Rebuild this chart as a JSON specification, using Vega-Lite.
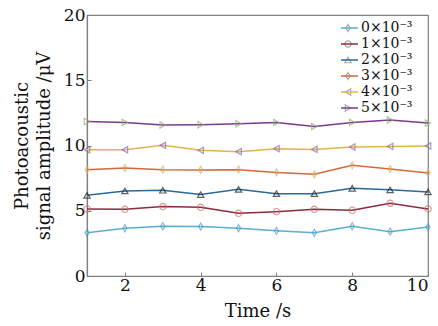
{
  "$schema": "https://vega.github.io/schema/vega-lite/v6.json",
  "autosize": {"type": "none"},
  "width": 341,
  "height": 261,
  "padding": {"left": 87, "top": 15, "right": 10, "bottom": 50},
  "background": "white",
  "config": {
    "font": "DejaVu Serif",
    "view": {"stroke": "#808080", "strokeWidth": 1.2},
    "axis": {"grid": false, "domainColor": "#808080", "tickColor": "#808080", "labelColor": "#111", "titleColor": "#111", "labelFont": "DejaVu Serif", "titleFont": "DejaVu Serif", "labelFontSize": 17, "titleFontSize": 18, "titleFontWeight": "normal", "tickSize": -4, "domainWidth": 1.2}
  },
  "data": {"values": [
    {"t":1,"v":3.31,"s":"0×10⁻³"},{"t":2,"v":3.66,"s":"0×10⁻³"},{"t":3,"v":3.81,"s":"0×10⁻³"},{"t":4,"v":3.79,"s":"0×10⁻³"},{"t":5,"v":3.66,"s":"0×10⁻³"},{"t":6,"v":3.46,"s":"0×10⁻³"},{"t":7,"v":3.31,"s":"0×10⁻³"},{"t":8,"v":3.81,"s":"0×10⁻³"},{"t":9,"v":3.40,"s":"0×10⁻³"},{"t":10,"v":3.76,"s":"0×10⁻³"},
    {"t":1,"v":5.14,"s":"1×10⁻³"},{"t":2,"v":5.11,"s":"1×10⁻³"},{"t":3,"v":5.32,"s":"1×10⁻³"},{"t":4,"v":5.26,"s":"1×10⁻³"},{"t":5,"v":4.80,"s":"1×10⁻³"},{"t":6,"v":4.93,"s":"1×10⁻³"},{"t":7,"v":5.11,"s":"1×10⁻³"},{"t":8,"v":5.03,"s":"1×10⁻³"},{"t":9,"v":5.57,"s":"1×10⁻³"},{"t":10,"v":5.14,"s":"1×10⁻³"},
    {"t":1,"v":6.18,"s":"2×10⁻³"},{"t":2,"v":6.52,"s":"2×10⁻³"},{"t":3,"v":6.57,"s":"2×10⁻³"},{"t":4,"v":6.24,"s":"2×10⁻³"},{"t":5,"v":6.64,"s":"2×10⁻³"},{"t":6,"v":6.31,"s":"2×10⁻³"},{"t":7,"v":6.31,"s":"2×10⁻³"},{"t":8,"v":6.72,"s":"2×10⁻³"},{"t":9,"v":6.60,"s":"2×10⁻³"},{"t":10,"v":6.44,"s":"2×10⁻³"},
    {"t":1,"v":8.15,"s":"3×10⁻³"},{"t":2,"v":8.28,"s":"3×10⁻³"},{"t":3,"v":8.15,"s":"3×10⁻³"},{"t":4,"v":8.13,"s":"3×10⁻³"},{"t":5,"v":8.15,"s":"3×10⁻³"},{"t":6,"v":7.94,"s":"3×10⁻³"},{"t":7,"v":7.79,"s":"3×10⁻³"},{"t":8,"v":8.48,"s":"3×10⁻³"},{"t":9,"v":8.20,"s":"3×10⁻³"},{"t":10,"v":7.90,"s":"3×10⁻³"},
    {"t":1,"v":9.68,"s":"4×10⁻³"},{"t":2,"v":9.68,"s":"4×10⁻³"},{"t":3,"v":10.01,"s":"4×10⁻³"},{"t":4,"v":9.63,"s":"4×10⁻³"},{"t":5,"v":9.53,"s":"4×10⁻³"},{"t":6,"v":9.76,"s":"4×10⁻³"},{"t":7,"v":9.70,"s":"4×10⁻³"},{"t":8,"v":9.89,"s":"4×10⁻³"},{"t":9,"v":9.93,"s":"4×10⁻³"},{"t":10,"v":9.96,"s":"4×10⁻³"},
    {"t":1,"v":11.84,"s":"5×10⁻³"},{"t":2,"v":11.77,"s":"5×10⁻³"},{"t":3,"v":11.57,"s":"5×10⁻³"},{"t":4,"v":11.59,"s":"5×10⁻³"},{"t":5,"v":11.67,"s":"5×10⁻³"},{"t":6,"v":11.77,"s":"5×10⁻³"},{"t":7,"v":11.46,"s":"5×10⁻³"},{"t":8,"v":11.77,"s":"5×10⁻³"},{"t":9,"v":11.95,"s":"5×10⁻³"},{"t":10,"v":11.72,"s":"5×10⁻³"}
  ]},
  "encoding": {
    "x": {"field": "t", "type": "quantitative", "scale": {"domain": [1, 10], "nice": false, "zero": false},
      "axis": {"values": [2, 4, 6, 8, 10], "title": "Time /s", "labelPadding": 5, "titlePadding": 9}},
    "y": {"field": "v", "type": "quantitative", "scale": {"domain": [0, 20], "nice": false},
      "axis": {"values": [0, 5, 10, 15, 20], "title": ["Photoacoustic", "signal amplitude /μV"], "labelPadding": 6, "titlePadding": 10, "titleLineHeight": 22}}
  },
  "layer": [
    {
      "mark": {"type": "line", "strokeWidth": 1.5},
      "encoding": {
        "stroke": {"field": "s", "type": "nominal",
          "scale": {"range": ["#5aaed0", "#8e2a3f", "#2a6a99", "#d2693a", "#e2b44a", "#7b3b8c"]},
          "legend": {"title": null, "orient": "none", "legendX": 254, "legendY": 5, "symbolType": "M-3,0L3,0", "symbolSize": 44, "symbolStrokeWidth": 1.5, "labelFont": "DejaVu Serif", "labelFontSize": 14, "labelColor": "#111", "labelOffset": 6, "rowPadding": 0, "clipHeight": 16, "padding": 0}}
      }
    },
    {
      "mark": {"type": "point", "filled": false, "size": 40, "strokeWidth": 1.2},
      "encoding": {
        "stroke": {"field": "s", "type": "nominal",
          "scale": {"range": ["#4aa0c8", "#c8706a", "#202020", "#d8b060", "#8a68a8", "#90b070"]},
          "legend": null},
        "shape": {"field": "s", "type": "nominal",
          "scale": {"range": ["M0,-1.1L0.65,0L0,1.1L-0.65,0Z", "circle", "triangle-up", "M0,-1.1L0.65,0L0,1.1L-0.65,0Z", "triangle-left", "triangle-right"]},
          "legend": {"title": null, "orient": "none", "legendX": 254, "legendY": 5, "symbolSize": 40, "symbolStrokeWidth": 1.2, "symbolFillColor": "transparent", "labelFont": "DejaVu Serif", "labelFontSize": 14, "labelExpr": "''", "rowPadding": 0, "clipHeight": 16, "padding": 0,
            "encode": {"symbols": {"update": {"stroke": {"signal": "['#4aa0c8','#c8706a','#202020','#d8b060','#8a68a8','#90b070'][datum.index]"}, "fill": {"value": "transparent"}}}}}}
      }
    }
  ],
  "resolve": {"scale": {"stroke": "independent"}, "legend": {"stroke": "independent"}}
}
